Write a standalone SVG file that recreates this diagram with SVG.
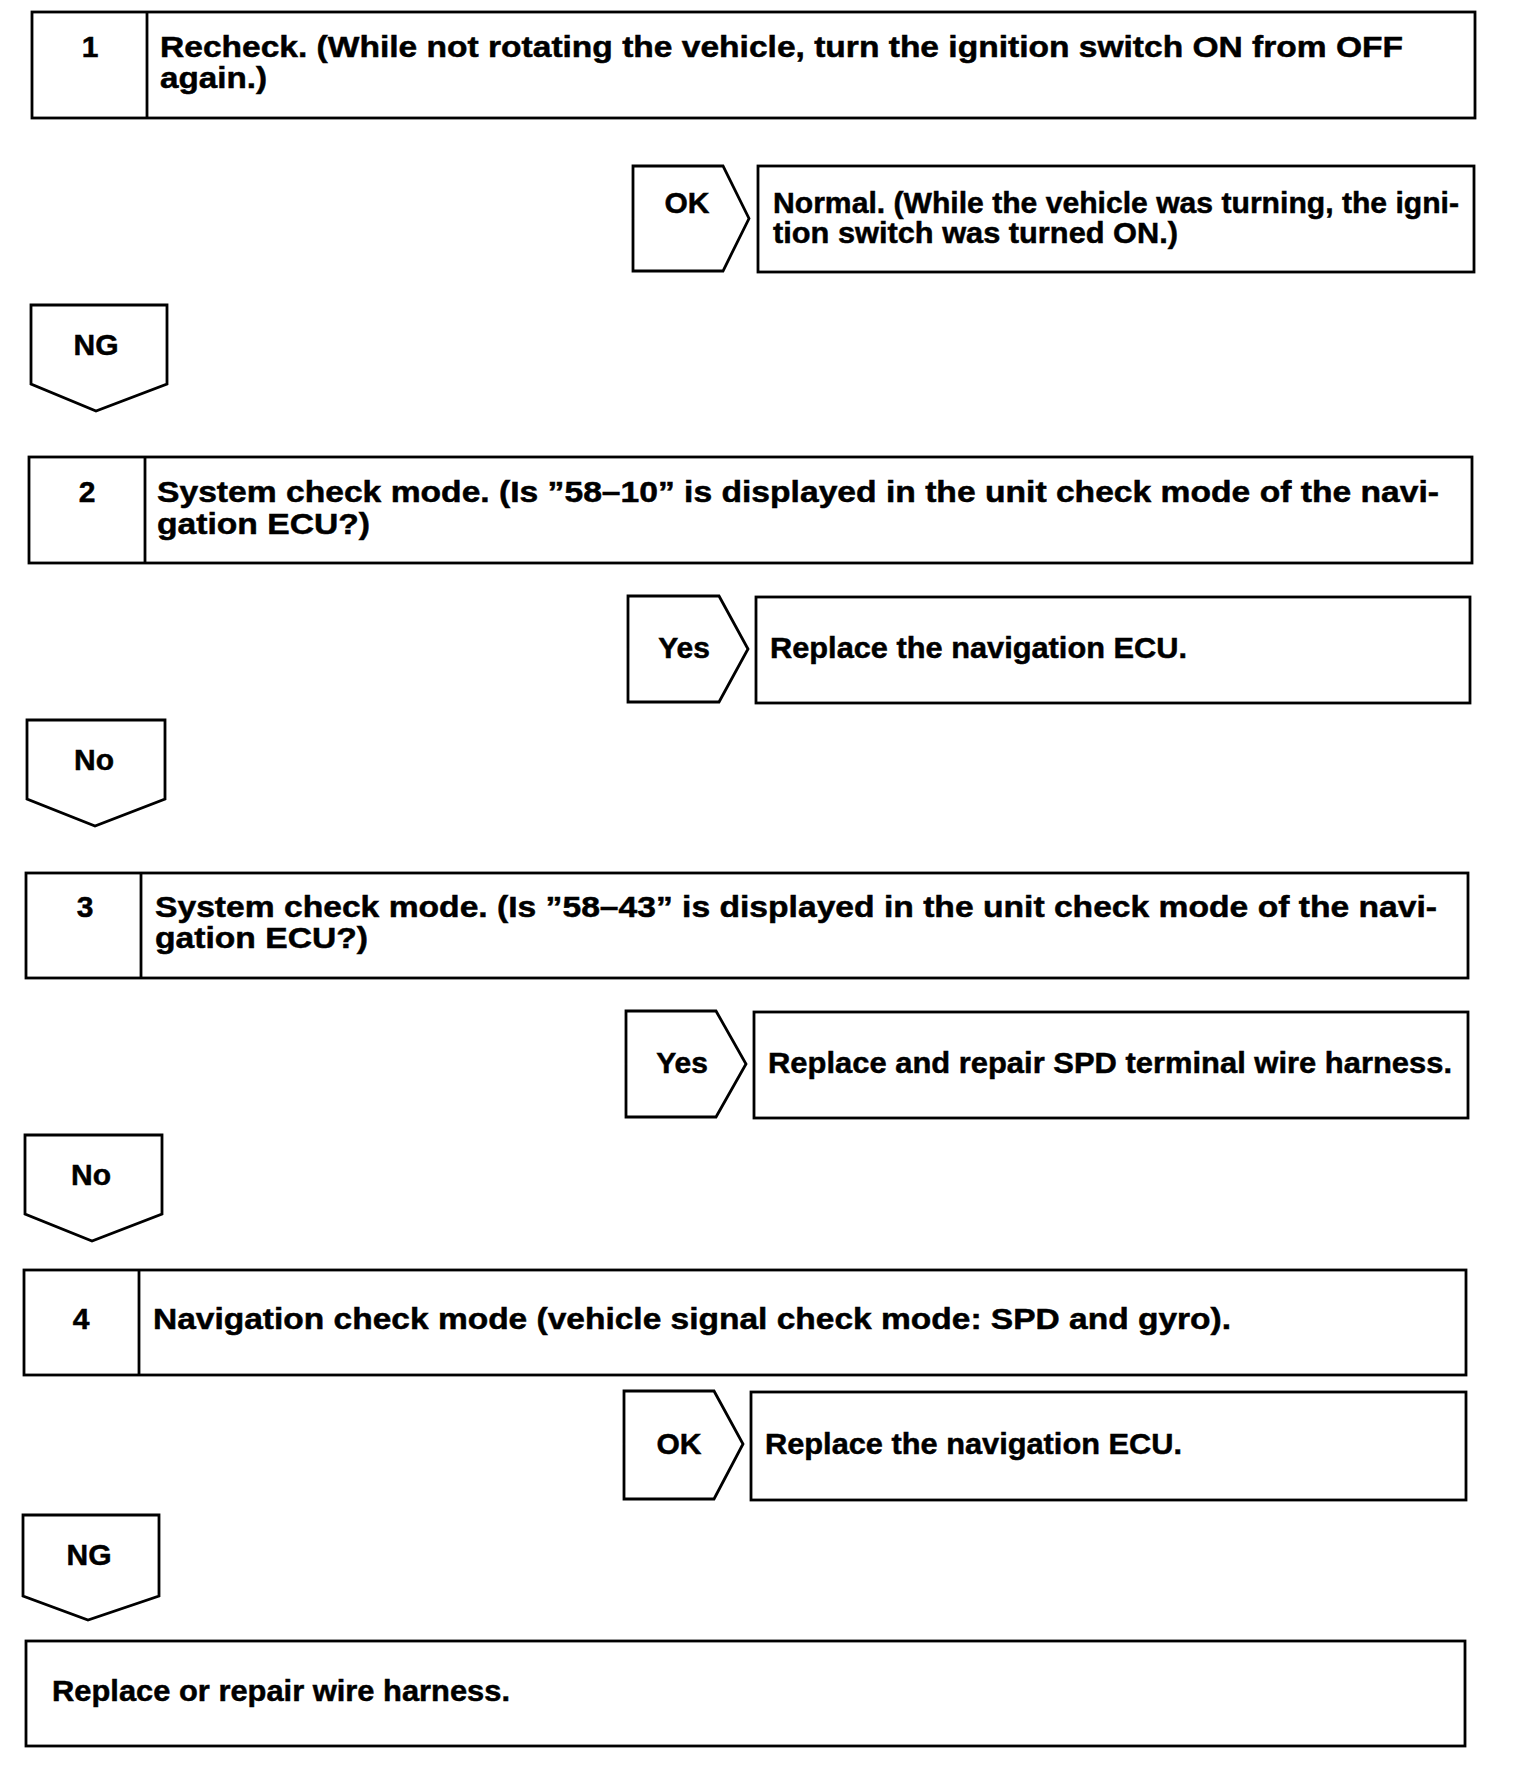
<svg xmlns="http://www.w3.org/2000/svg" width="1536" height="1772" viewBox="0 0 1536 1772">
<style>
.b{fill:#fff;stroke:#000;stroke-width:2.8}
.t{font-family:"Liberation Sans",Arial,sans-serif;font-weight:bold;font-size:30px;fill:#000;stroke:#000;stroke-width:0.5}
.c{text-anchor:middle}
</style>
<rect width="1536" height="1772" fill="#fff"/>
<g id="step1">
<rect class="b" x="32" y="12" width="1443" height="106"/>
<line class="b" x1="147" y1="12" x2="147" y2="118"/>
<text class="t c" x="90" y="57">1</text>
<text class="t" x="160" y="57" textLength="1243" lengthAdjust="spacingAndGlyphs">Recheck. (While not rotating the vehicle, turn the ignition switch ON from OFF</text>
<text class="t" x="160" y="88" textLength="107" lengthAdjust="spacingAndGlyphs">again.)</text>
</g>
<g id="normal">
<rect class="b" x="758" y="166" width="716" height="106"/>
<text class="t" x="773" y="213" textLength="686" lengthAdjust="spacingAndGlyphs">Normal. (While the vehicle was turning, the igni-</text>
<text class="t" x="773" y="243" textLength="405" lengthAdjust="spacingAndGlyphs">tion switch was turned ON.)</text>
</g>
<g id="step2">
<rect class="b" x="29" y="457" width="1443" height="106"/>
<line class="b" x1="145" y1="457" x2="145" y2="563"/>
<text class="t c" x="87" y="502">2</text>
<text class="t" x="157" y="502" textLength="1282" lengthAdjust="spacingAndGlyphs">System check mode. (Is ”58–10” is displayed in the unit check mode of the navi-</text>
<text class="t" x="157" y="534" textLength="213" lengthAdjust="spacingAndGlyphs">gation ECU?)</text>
</g>
<g id="replace-ecu-1">
<rect class="b" x="756" y="597" width="714" height="106"/>
<text class="t" x="770" y="658" textLength="417" lengthAdjust="spacingAndGlyphs">Replace the navigation ECU.</text>
</g>
<g id="step3">
<rect class="b" x="26" y="873" width="1442" height="105"/>
<line class="b" x1="141" y1="873" x2="141" y2="978"/>
<text class="t c" x="85" y="917">3</text>
<text class="t" x="155" y="917" textLength="1282" lengthAdjust="spacingAndGlyphs">System check mode. (Is ”58–43” is displayed in the unit check mode of the navi-</text>
<text class="t" x="155" y="948" textLength="213" lengthAdjust="spacingAndGlyphs">gation ECU?)</text>
</g>
<g id="replace-spd">
<rect class="b" x="754" y="1012" width="714" height="106"/>
<text class="t" x="768" y="1073" textLength="684" lengthAdjust="spacingAndGlyphs">Replace and repair SPD terminal wire harness.</text>
</g>
<g id="step4">
<rect class="b" x="24" y="1270" width="1442" height="105"/>
<line class="b" x1="139" y1="1270" x2="139" y2="1375"/>
<text class="t c" x="81" y="1329">4</text>
<text class="t" x="153" y="1329" textLength="1078" lengthAdjust="spacingAndGlyphs">Navigation check mode (vehicle signal check mode: SPD and gyro).</text>
</g>
<g id="replace-ecu-2">
<rect class="b" x="751" y="1392" width="715" height="108"/>
<text class="t" x="765" y="1454" textLength="417" lengthAdjust="spacingAndGlyphs">Replace the navigation ECU.</text>
</g>
<g id="replace-harness">
<rect class="b" x="26" y="1641" width="1439" height="105"/>
<text class="t" x="52" y="1701" textLength="458" lengthAdjust="spacingAndGlyphs">Replace or repair wire harness.</text>
</g>
<g id="connectors">
<g id="ok1"><path class="b" d="M633 166H723L749 218.5L723 271H633Z"/><text class="t c" x="687" y="213">OK</text></g>
<g id="ng1"><path class="b" d="M31 305H167V384L96 411L31 384Z"/><text class="t c" x="96" y="355">NG</text></g>
<g id="yes2"><path class="b" d="M628 596H719L748 649L719 702H628Z"/><text class="t c" x="684" y="658">Yes</text></g>
<g id="no2"><path class="b" d="M27 720H165V799L95 826L27 799Z"/><text class="t c" x="94" y="770">No</text></g>
<g id="yes3"><path class="b" d="M626 1011H716L746 1064L716 1117H626Z"/><text class="t c" x="682" y="1073">Yes</text></g>
<g id="no3"><path class="b" d="M25 1135H162V1214L92 1241L25 1214Z"/><text class="t c" x="91" y="1185">No</text></g>
<g id="ok4"><path class="b" d="M624 1391H714L743 1444L714 1499H624Z"/><text class="t c" x="679" y="1454">OK</text></g>
<g id="ng4"><path class="b" d="M23 1515H159V1596L88 1620L23 1596Z"/><text class="t c" x="89" y="1565">NG</text></g>
</g>
</svg>
